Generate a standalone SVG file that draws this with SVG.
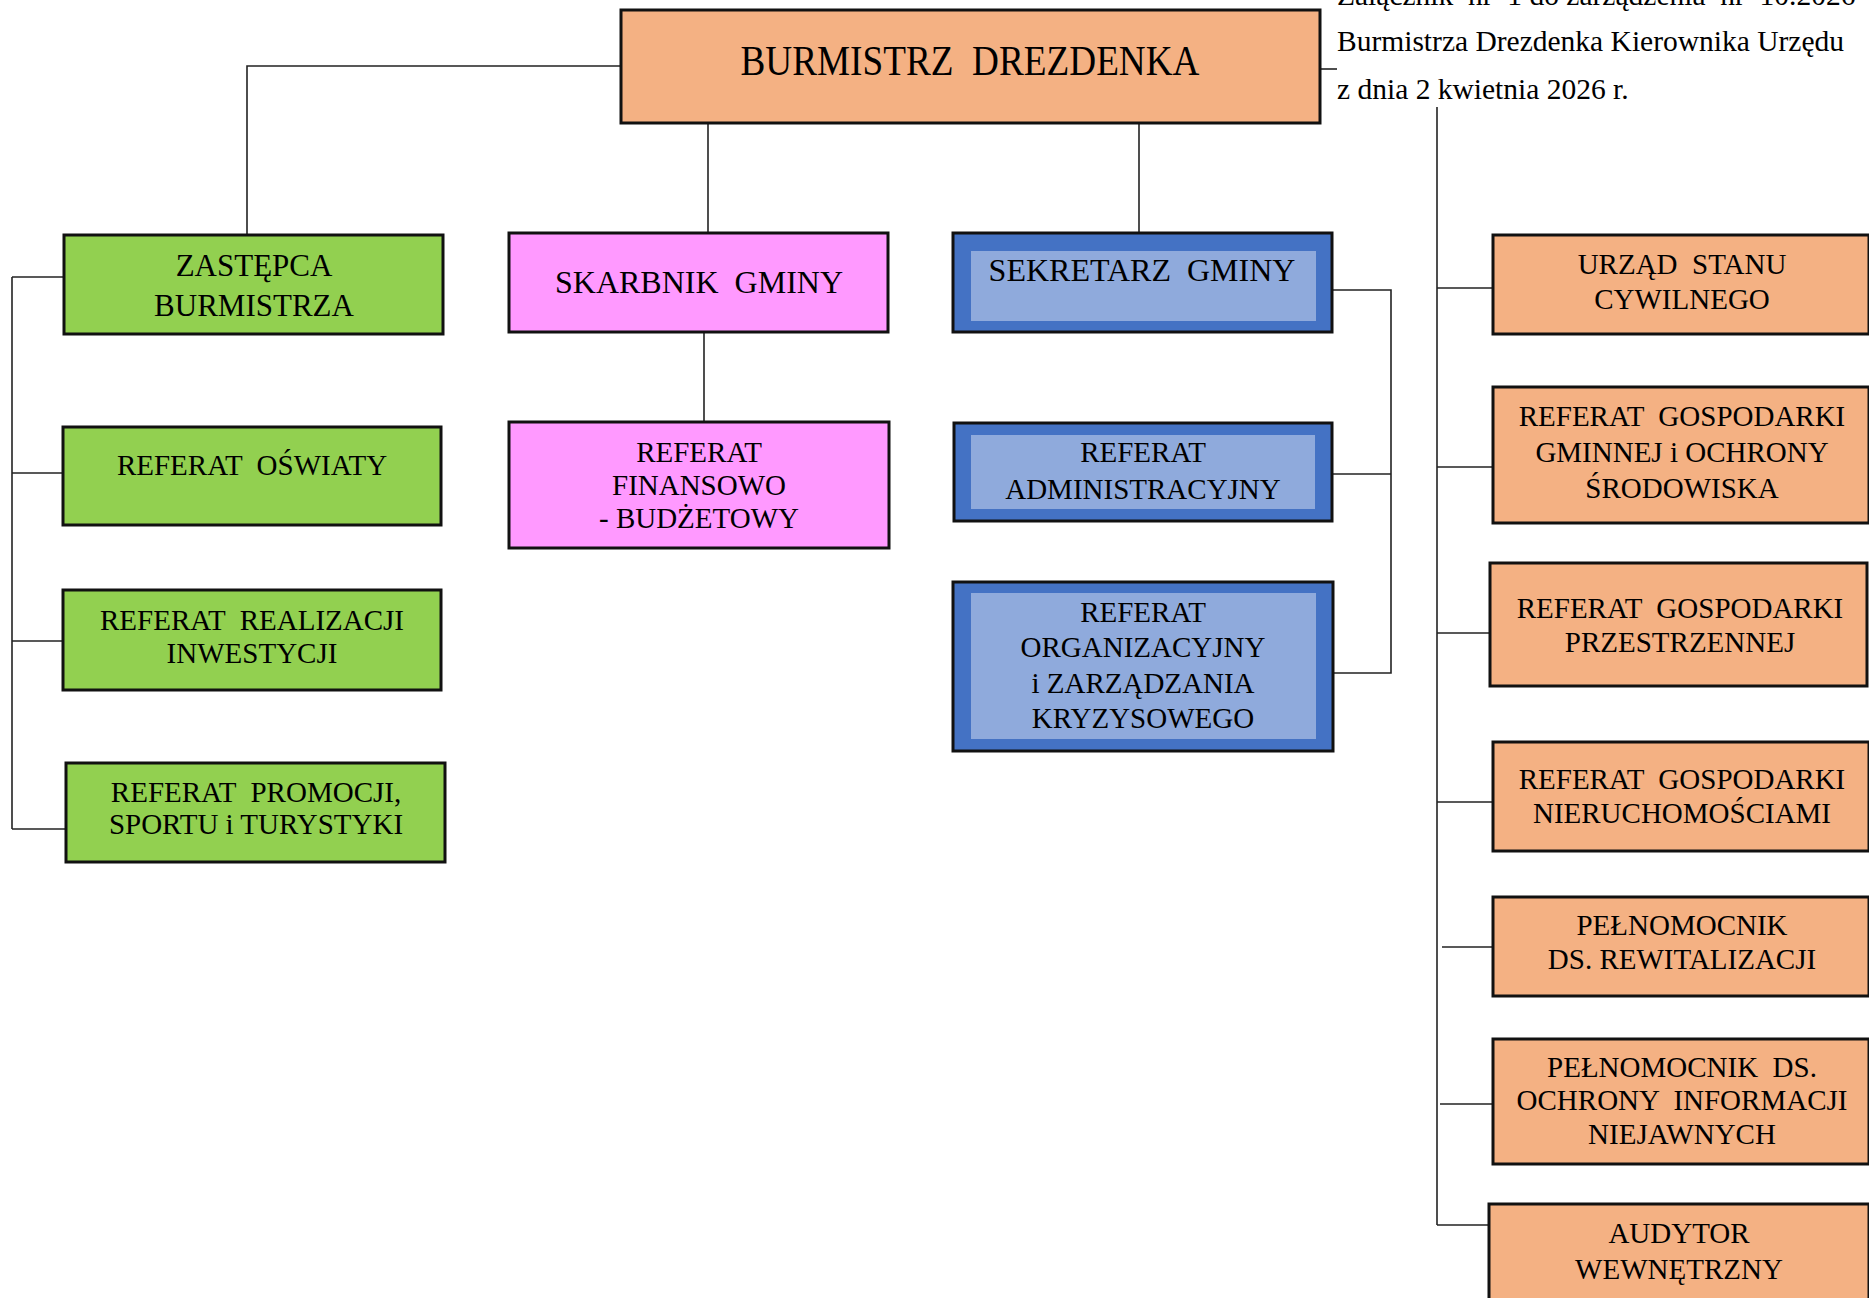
<svg xmlns="http://www.w3.org/2000/svg" width="1869" height="1298" viewBox="0 0 1869 1298">
<style>
text{font-family:"Liberation Serif","Times New Roman",serif;fill:#000;white-space:pre;}
.t{font-size:29px;text-anchor:middle;}
.t31{font-size:31px;text-anchor:middle;}
.t32{font-size:32px;text-anchor:middle;}
.hdr{font-size:29.5px;}
.box{stroke:#111;stroke-width:3;}
.or{fill:#F4B183;}
.gr{fill:#92D050;}
.pk{fill:#FF99FF;}
.bl{fill:#4472C4;}
.in{fill:#8FAADC;stroke:none;}
.con line,.con polyline{stroke:#222;stroke-width:1.6;fill:none;}
</style>
<rect width="1869" height="1298" fill="#fff"/>
<g id="header">
<text class="hdr" x="1337" y="5">Załącznik &#160;nr &#160;1 do zarządzenia &#160;nr &#160;10.2026</text>
<text class="hdr" x="1337" y="51">Burmistrza Drezdenka Kierownika Urzędu</text>
<text class="hdr" x="1337" y="99">z dnia 2 kwietnia 2026 r.</text>
</g>
<g class="con" id="connectors">
<polyline points="621,66 247,66 247,234"/>
<line x1="708" y1="123" x2="708" y2="233"/>
<line x1="1139" y1="123" x2="1139" y2="233"/>
<line x1="1320" y1="69" x2="1337" y2="69"/>
<line x1="704" y1="332" x2="704" y2="422"/>
<line x1="12" y1="277" x2="12" y2="829"/>
<line x1="12" y1="277" x2="64" y2="277"/>
<line x1="12" y1="473" x2="63" y2="473"/>
<line x1="12" y1="641" x2="63" y2="641"/>
<line x1="12" y1="829" x2="66" y2="829"/>
<polyline points="1332,290 1391,290 1391,673 1332,673"/>
<line x1="1332" y1="474" x2="1391" y2="474"/>
<line x1="1437" y1="107" x2="1437" y2="1225"/>
<line x1="1437" y1="288" x2="1493" y2="288"/>
<line x1="1437" y1="467" x2="1493" y2="467"/>
<line x1="1437" y1="633" x2="1490" y2="633"/>
<line x1="1437" y1="802" x2="1493" y2="802"/>
<line x1="1442" y1="947" x2="1493" y2="947"/>
<line x1="1440" y1="1104" x2="1493" y2="1104"/>
<line x1="1437" y1="1225" x2="1489" y2="1225"/>
</g>
<g id="burmistrz">
<rect class="box or" x="621" y="10" width="699" height="113"/>
<text x="970" y="75" font-size="43" text-anchor="middle" textLength="459" lengthAdjust="spacingAndGlyphs">BURMISTRZ &#160;DREZDENKA</text>
</g>
<g id="zastepca">
<rect class="box gr" x="64" y="235" width="379" height="99"/>
<text class="t31" x="254" y="276">ZASTĘPCA</text>
<text class="t31" x="254" y="316">BURMISTRZA</text>
</g>
<g id="oswiaty">
<rect class="box gr" x="63" y="427" width="378" height="98"/>
<text class="t" x="252" y="475">REFERAT &#160;OŚWIATY</text>
</g>
<g id="realizacji">
<rect class="box gr" x="63" y="590" width="378" height="100"/>
<text class="t" x="252" y="630">REFERAT &#160;REALIZACJI</text>
<text class="t" x="252" y="663">INWESTYCJI</text>
</g>
<g id="promocji">
<rect class="box gr" x="66" y="763" width="379" height="99"/>
<text class="t" x="256" y="802">REFERAT &#160;PROMOCJI,</text>
<text class="t" x="256" y="834">SPORTU i TURYSTYKI</text>
</g>
<g id="skarbnik">
<rect class="box pk" x="509" y="233" width="379" height="99"/>
<text class="t32" x="699" y="293">SKARBNIK &#160;GMINY</text>
</g>
<g id="finansowy">
<rect class="box pk" x="509" y="422" width="380" height="126"/>
<text class="t" x="699" y="462">REFERAT</text>
<text class="t" x="699" y="495">FINANSOWO</text>
<text class="t" x="699" y="528">- BUDŻETOWY</text>
</g>
<g id="sekretarz">
<rect class="box bl" x="953" y="233" width="379" height="99"/>
<rect class="in" x="971" y="251" width="345" height="70"/>
<text class="t32" x="1142" y="281">SEKRETARZ &#160;GMINY</text>
</g>
<g id="administracyjny">
<rect class="box bl" x="954" y="423" width="378" height="98"/>
<rect class="in" x="971" y="435" width="344" height="74"/>
<text class="t" x="1143" y="462">REFERAT</text>
<text class="t" x="1143" y="499">ADMINISTRACYJNY</text>
</g>
<g id="organizacyjny">
<rect class="box bl" x="953" y="582" width="380" height="169"/>
<rect class="in" x="971" y="593" width="345" height="146"/>
<text class="t" x="1143" y="622">REFERAT</text>
<text class="t" x="1143" y="657">ORGANIZACYJNY</text>
<text class="t" x="1143" y="693">i ZARZĄDZANIA</text>
<text class="t" x="1143" y="728">KRYZYSOWEGO</text>
</g>
<g id="usc">
<rect class="box or" x="1493" y="235" width="376" height="99"/>
<text class="t" x="1682" y="274">URZĄD &#160;STANU</text>
<text class="t" x="1682" y="309">CYWILNEGO</text>
</g>
<g id="gospodarki-gminnej">
<rect class="box or" x="1493" y="387" width="376" height="136"/>
<text class="t" x="1682" y="426">REFERAT &#160;GOSPODARKI</text>
<text class="t" x="1682" y="462">GMINNEJ i OCHRONY</text>
<text class="t" x="1682" y="498">ŚRODOWISKA</text>
</g>
<g id="przestrzennej">
<rect class="box or" x="1490" y="563" width="377" height="123"/>
<text class="t" x="1680" y="618">REFERAT &#160;GOSPODARKI</text>
<text class="t" x="1680" y="652">PRZESTRZENNEJ</text>
</g>
<g id="nieruchomosci">
<rect class="box or" x="1493" y="742" width="376" height="109"/>
<text class="t" x="1682" y="789">REFERAT &#160;GOSPODARKI</text>
<text class="t" x="1682" y="823">NIERUCHOMOŚCIAMI</text>
</g>
<g id="rewitalizacja">
<rect class="box or" x="1493" y="897" width="376" height="99"/>
<text class="t" x="1682" y="935">PEŁNOMOCNIK</text>
<text class="t" x="1682" y="969">DS. REWITALIZACJI</text>
</g>
<g id="niejawne">
<rect class="box or" x="1493" y="1039" width="376" height="125"/>
<text class="t" x="1682" y="1077">PEŁNOMOCNIK &#160;DS.</text>
<text class="t" x="1682" y="1110">OCHRONY &#160;INFORMACJI</text>
<text class="t" x="1682" y="1144">NIEJAWNYCH</text>
</g>
<g id="audytor">
<rect class="box or" x="1489" y="1204" width="380" height="110"/>
<text class="t" x="1679" y="1243">AUDYTOR</text>
<text class="t" x="1679" y="1279">WEWNĘTRZNY</text>
</g>
</svg>
